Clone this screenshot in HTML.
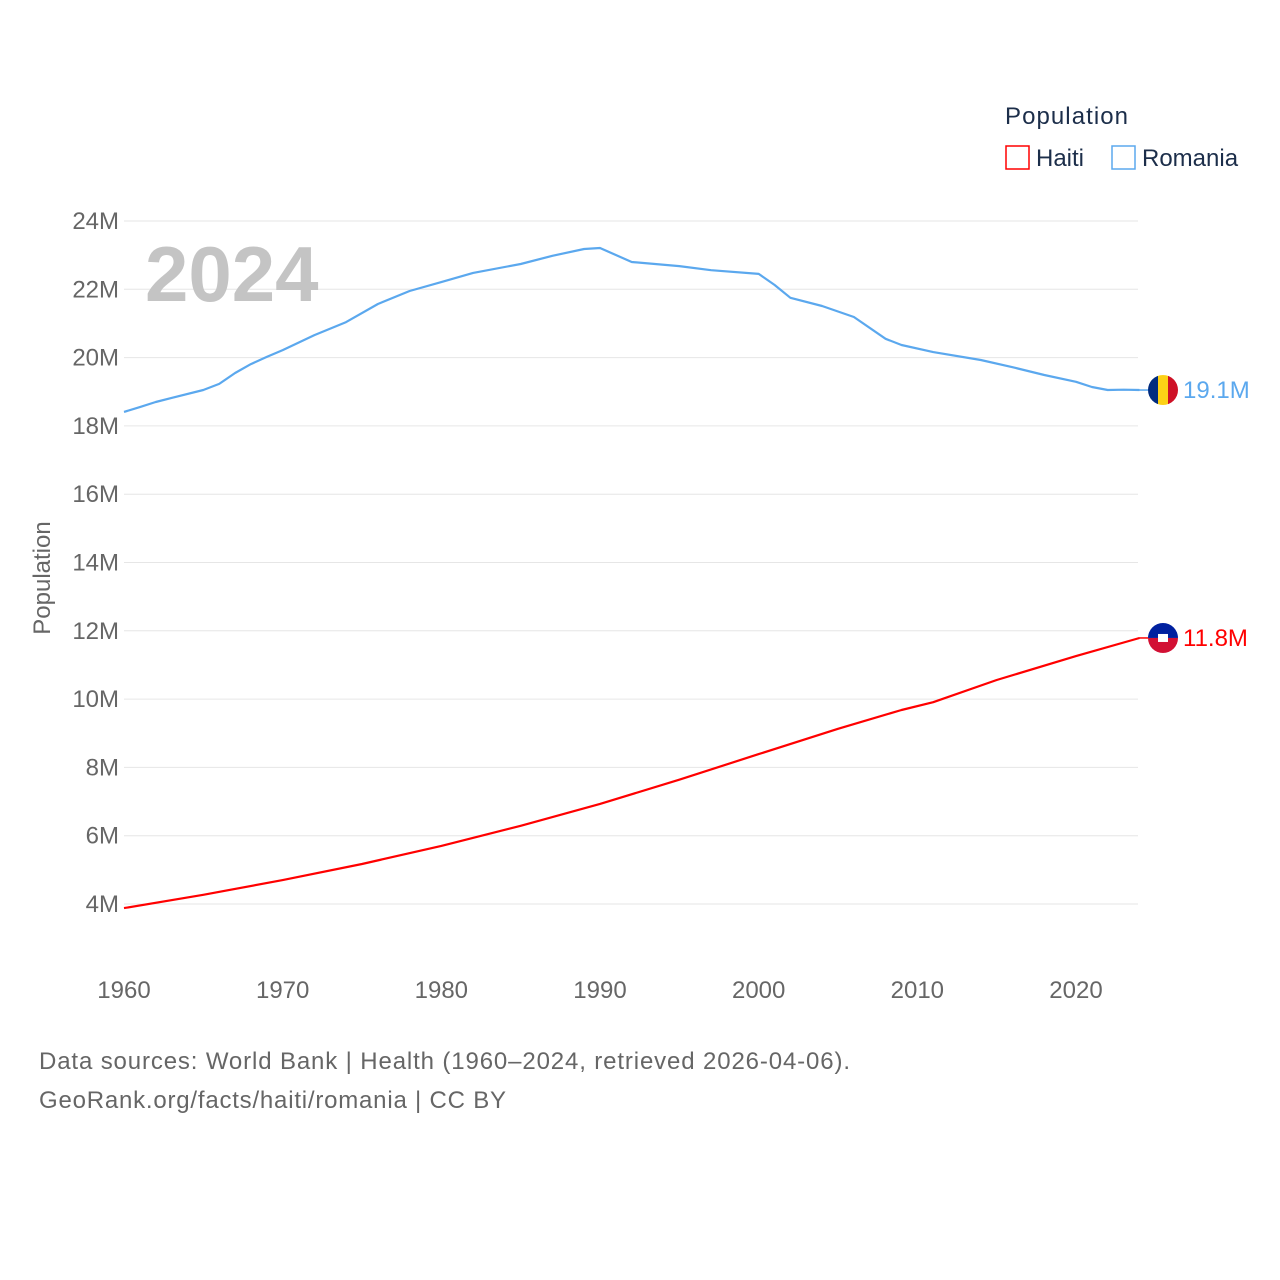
<!DOCTYPE html>
<html><head><meta charset="utf-8">
<style>
html,body{margin:0;padding:0;background:#fff;}
svg{display:block;font-family:"Liberation Sans",sans-serif;}
</style></head>
<body>
<svg id="chart" width="1280" height="1280" viewBox="0 0 1280 1280">
<g id="grid"></g>
<g id="yticks"></g>
<g id="xticks"></g>
<text x="145" y="301" font-size="78" font-weight="bold" fill="#c4c4c4">2024</text>
<text transform="translate(50,578) rotate(-90)" text-anchor="middle" font-size="24" fill="#666">Population</text>
<g id="series"></g>
<g>
<text x="1005" y="124" font-size="24" fill="#1c2e4a" textLength="123">Population</text>
<g><rect x="1006" y="146" width="23" height="23" fill="none" stroke="#ff0000" stroke-width="1.5"/><text x="1036" y="166" font-size="24" fill="#1c2e4a">Haiti</text></g>
<g><rect x="1112" y="146" width="23" height="23" fill="none" stroke="#5ba8ee" stroke-width="1.5"/><text x="1142" y="166" font-size="24" fill="#1c2e4a">Romania</text></g>
</g>
<text x="39" y="1069" font-size="24" fill="#666" textLength="811">Data sources: World Bank | Health (1960–2024, retrieved 2026-04-06).</text>
<text x="39" y="1108" font-size="24" fill="#666" textLength="467">GeoRank.org/facts/haiti/romania | CC BY</text>
</svg>
<script>
const yTicks=[4,6,8,10,12,14,16,18,20,22,24];
const xTicks=[1960,1970,1980,1990,2000,2010,2020];
const romaniaYears=[1960,1961,1962,1963,1965,1966,1967,1968,1969,1970,1972,1974,1976,1978,1980,1982,1985,1987,1989,1990,1992,1995,1997,2000,2001,2002,2004,2006,2008,2009,2011,2014,2016,2018,2020,2021,2022,2023,2024];
const romaniaValues=[18.41,18.55,18.70,18.82,19.05,19.23,19.55,19.81,20.02,20.22,20.66,21.04,21.57,21.95,22.21,22.48,22.74,22.98,23.18,23.21,22.80,22.68,22.56,22.45,22.13,21.75,21.51,21.19,20.55,20.37,20.16,19.93,19.72,19.49,19.29,19.14,19.05,19.06,19.05];
const haitiYears=[1960,1965,1970,1975,1980,1985,1990,1995,2000,2005,2009,2011,2015,2020,2024];
const haitiValues=[3.88,4.27,4.70,5.17,5.70,6.29,6.93,7.64,8.39,9.13,9.68,9.91,10.56,11.26,11.79];
const latestLabels=["19.1M","11.8M"];
const NS="http://www.w3.org/2000/svg";
const X=yr=>124+(yr-1960)*(952/60);
const Y=v=>904-(v-4)*(683/20);
function el(t,a,p){const e=document.createElementNS(NS,t);for(const k in a)e.setAttribute(k,a[k]);p.appendChild(e);return e;}
const grid=document.getElementById('grid'),yt=document.getElementById('yticks'),xt=document.getElementById('xticks'),ser=document.getElementById('series');
yTicks.forEach(v=>{
 const l=el('line',{x1:124,x2:1138,y1:Y(v),y2:Y(v),stroke:'#e6e6e6','stroke-width':1},grid);
 
 
 const t=el('text',{x:119,y:Y(v)+8,'text-anchor':'end','font-size':24,fill:'#666'},yt);
 t.textContent=v+'M';
 
 
});
xTicks.forEach(v=>{
 const t=el('text',{x:X(v),y:998,'text-anchor':'middle','font-size':24,fill:'#666'},xt);
 t.textContent=v;
 
 
});
function line(years,vals,color,name){
 const d=years.map((y,i)=>(i?'L':'M')+X(y).toFixed(1)+','+Y(vals[i]).toFixed(1)).join('');
 const p=el('path',{d:d,fill:'none',stroke:color,'stroke-width':2.2,'stroke-linejoin':'round'},ser);
 
 
}
line(romaniaYears,romaniaValues,'#5ba8ee','romania-line');
line(haitiYears,haitiValues,'#ff0000','haiti-line');
function marker(v,color,label,name,flag){
 const y=Y(v),cx=1163;
 el('line',{x1:1139,x2:1148,y1:y,y2:y,stroke:color,'stroke-width':1.5},ser);
 const g=el('g',{},ser);
 
 
 const cp=el('clipPath',{id:'c'+flag},g);
 el('circle',{cx:cx,cy:y,r:15},cp);
 const gg=el('g',{'clip-path':'url(#c'+flag+')'},g);
 if(flag==='ro'){
  el('rect',{x:cx-15,y:y-15,width:10,height:30,fill:'#002b7f'},gg);
  el('rect',{x:cx-5,y:y-15,width:10,height:30,fill:'#fcd116'},gg);
  el('rect',{x:cx+5,y:y-15,width:10,height:30,fill:'#ce1126'},gg);
 } else {
  el('rect',{x:cx-15,y:y-15,width:30,height:15,fill:'#00209f'},gg);
  el('rect',{x:cx-15,y:y,width:30,height:15,fill:'#d21034'},gg);
  el('rect',{x:cx-5,y:y-4,width:10,height:8,fill:'#fff'},gg);
 }
 const t=el('text',{x:1183,y:y+8,'font-size':24,fill:color},ser);
 t.textContent=label;
 
 
}
marker(romaniaValues[romaniaValues.length-1],'#5ba8ee',latestLabels[0],'romania','ro');
marker(haitiValues[haitiValues.length-1],'#ff0000',latestLabels[1],'haiti','ht');
</script>
</body></html>
